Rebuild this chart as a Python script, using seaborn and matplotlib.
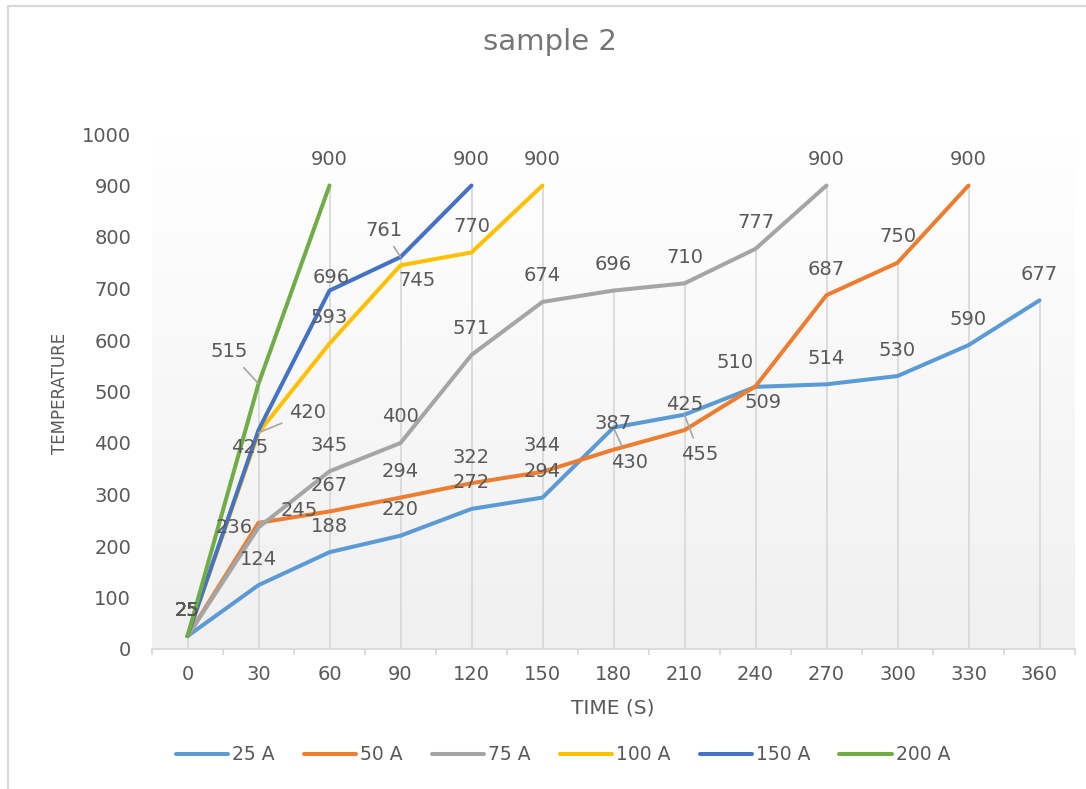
import numpy as np
import pandas as pd
import matplotlib
matplotlib.use("Agg")
import matplotlib.pyplot as plt
import seaborn as sns
from matplotlib.lines import Line2D
from matplotlib.patches import Rectangle
from matplotlib.colors import LinearSegmentedColormap

# Heating curves: temperature reached over time for each current
time_s = [0, 30, 60, 90, 120, 150, 180, 210, 240, 270, 300, 330, 360]
temp_25a = [25, 124, 188, 220, 272, 294, 430, 455, 509, 514, 530, 590, 677]
temp_50a = [25, 245, 267, 294, 322, 344, 387, 425, 510, 687, 750, 900]
temp_75a = [25, 236, 345, 400, 571, 674, 696, 710, 777, 900]
temp_100a = [25, 420, 593, 745, 770, 900]
temp_150a = [25, 425, 696, 761, 900]
temp_200a = [25, 515, 900]
series_names = ["25 A", "50 A", "75 A", "100 A", "150 A", "200 A"]
y_ticks = list(range(0, 1001, 100))

series_values = [temp_25a, temp_50a, temp_75a, temp_100a, temp_150a, temp_200a]
colors = ["#5B9BD5", "#ED7D31", "#A5A5A5", "#FFC000", "#4472C4", "#70AD47"]
palette = dict(zip(series_names, colors))

rows = []
for name, vals in zip(series_names, series_values):
    for t, v in zip(time_s, vals):
        rows.append({"time": t, "temp": v, "series": name})
df = pd.DataFrame(rows)

# label placement tweaks (pixel offsets from the point) for crowded spots
default_offset = (0, 26)
label_nudge = {
    ("200 A", 30): (-29, 32, True),
    ("150 A", 30): (-9, -17, False),
    ("150 A", 60): (2, 13, False),
    ("150 A", 90): (-17, 27, True),
    ("100 A", 30): (49, 20, True),
    ("100 A", 90): (16, -15, False),
    ("75 A", 30): (-24, 0, False),
    ("50 A", 30): (41, 12, True),
    ("25 A", 180): (16, -35, True),
    ("25 A", 210): (15, -40, True),
    ("50 A", 240): (-20, 24, False),
    ("25 A", 240): (8, -16, False),
}

TXT = "#595959"
GRID = "#d9d9d9"

sns.set_theme(style="white")
plt.rcParams["font.family"] = ["DejaVu Sans"]

W, H = 1086, 789
fig = plt.figure(figsize=(W / 100, H / 100), dpi=100)
fig.patch.set_facecolor("white")
ax = fig.add_axes([152 / W, 140 / H, (1075 - 152) / W, (649 - 134) / H])

# plot-area gradient, white at the top fading to light grey
grad_cmap = LinearSegmentedColormap.from_list("plotfill", ["#f0f0f0", "#ffffff"])
ax.imshow(np.linspace(0, 1, 256)[:, None], cmap=grad_cmap, origin="lower",
          extent=[0, 1, 0, 1], transform=ax.transAxes, aspect="auto", zorder=0)

# drop lines from the highest value at each time down to the axis
drop_top = []
for i, t in enumerate(time_s):
    drop_top.append(max(vals[i] for vals in series_values if i < len(vals)))
ax.vlines(time_s, 0, drop_top, color=GRID, lw=1.3, zorder=1)

sns.lineplot(data=df, x="time", y="temp", hue="series", hue_order=series_names,
             palette=palette, linewidth=2.9, sort=False, estimator=None,
             legend=False, ax=ax, zorder=2,
             solid_capstyle="round", solid_joinstyle="round")

for name, vals in zip(series_names, series_values):
    for t, v in zip(time_s, vals):
        dx, dy, leader = label_nudge.get((name, t), (*default_offset, False))
        ax.annotate(str(v), xy=(t, v), xytext=(dx, dy), textcoords="offset pixels",
                    ha="center", va="center", fontsize=14, color=TXT, zorder=4,
                    arrowprops=(dict(arrowstyle="-", color="#a6a6a6", lw=1.2,
                                     shrinkA=3, shrinkB=0) if leader else None))

ax.set_xlim(-15, 375)
ax.set_ylim(0, 1000)
ax.set_xticks(time_s)
ax.set_xticklabels([str(t) for t in time_s])
ax.set_xticks(np.arange(-15, 376, 30), minor=True)
ax.set_yticks(y_ticks)
ax.set_yticklabels([str(v) for v in y_ticks])
ax.tick_params(axis="x", which="major", length=0, pad=11.5, labelsize=14, labelcolor=TXT)
ax.tick_params(axis="x", which="minor", length=4, width=1.3, color=GRID, bottom=True)
ax.tick_params(axis="y", length=0, pad=15, labelsize=14, labelcolor=TXT)
for side in ("left", "top", "right"):
    ax.spines[side].set_visible(False)
ax.spines["bottom"].set_color(GRID)
ax.spines["bottom"].set_linewidth(1.3)
ax.grid(False)

ax.set_xlabel("TIME (S)", fontsize=14.5, color=TXT, va="center")
ax.xaxis.set_label_coords((613 - 152) / 923, -(708 - 649) / 515)
ax.set_ylabel("TEMPERATURE", fontsize=12, color=TXT, va="center")
ax.yaxis.set_label_coords((60 - 152) / 923, (649 - 393) / 515)

fig.text(550 / W, 1 - 42 / H, "sample 2", ha="center", va="center",
         fontsize=21, color="#767676")

handles = [Line2D([0], [0], color=c, lw=2.9, solid_capstyle="round") for c in colors]
ax.legend(handles, series_names, loc="center", bbox_to_anchor=(563 / W, 1 - 755 / H),
          bbox_transform=fig.transFigure, ncol=6, frameon=False, fontsize=13.5,
          handlelength=2.8, handletextpad=0.2, columnspacing=1.55, labelcolor=TXT)

# light chart border
fig.patches.append(Rectangle((8 / W, -0.05), 1.2, 1.05 - 6 / H, transform=fig.transFigure,
                             fill=False, edgecolor=GRID, lw=1.6, zorder=0))

fig.savefig("out.png", dpi=100)
